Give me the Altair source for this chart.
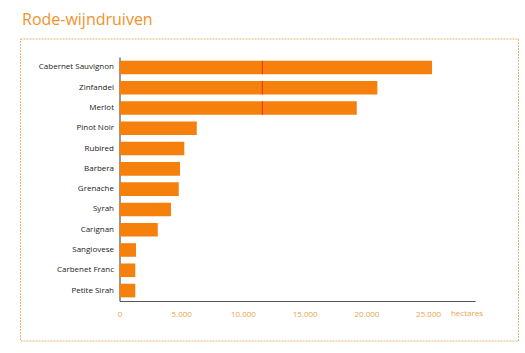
import altair as alt
import pandas as pd

grapes = ["Cabernet Sauvignon", "Zinfandel", "Merlot", "Pinot Noir", "Rubired",
          "Barbera", "Grenache", "Syrah", "Carignan", "Sangiovese",
          "Carbenet Franc", "Petite Sirah"]
hectares = [25320, 20890, 19220, 6260, 5250, 4900, 4800, 4170, 3100, 1340, 1280, 1280]
marker_grapes = ["Cabernet Sauvignon", "Zinfandel", "Merlot"]
marker_value = 11570
tick_values = [0, 5000, 10000, 15000, 20000, 25000]
title_text = "Rode-wijndruiven"
unit_text = "hectares"

df = pd.DataFrame({"grape": grapes, "hectares": hectares})
mk = pd.DataFrame({"grape": marker_grapes, "hectares": [marker_value] * len(marker_grapes)})

ORANGE = "#f5800c"
xscale = alt.Scale(domain=[0, 28800], nice=False, zero=True)
yscale = alt.Scale(domain=grapes, paddingInner=0.33, paddingOuter=0.18)

bars = alt.Chart(df).mark_bar(color=ORANGE).encode(
    x=alt.X("hectares:Q", scale=xscale,
            axis=alt.Axis(title=None, values=tick_values, grid=False, ticks=False,
                          labelColor="#e9a449", labelFont="Open Sans", labelFontSize=8,
                          labelPadding=9, domainColor="#555555", domainWidth=1,
                          labelExpr="replace(format(datum.value, ','), ',', '.')",
                          labelFlush=False)),
    y=alt.Y("grape:N", scale=yscale, sort=grapes,
            axis=alt.Axis(title=None, ticks=False, labelColor="#222222",
                          labelFont="Open Sans", labelFontSize=8, labelPadding=6,
                          domainColor="#333333", domainWidth=1)),
)

marker = alt.Chart(mk).mark_tick(color="#e01010", thickness=1, size=13.5, orient="vertical").encode(
    x=alt.X("hectares:Q", scale=xscale),
    y=alt.Y("grape:N", scale=yscale, sort=grapes),
)

one = pd.DataFrame({"t": [title_text], "u": [unit_text]})
title = alt.Chart(one).mark_text(align="left", baseline="alphabetic", fontSize=16,
                                 font="Open Sans", color="#f0922a").encode(
    text="t:N", x=alt.value(-97.5), y=alt.value(-32))
unit = alt.Chart(one).mark_text(align="center", baseline="middle", fontSize=8,
                                font="Open Sans", color="#e9a449").encode(
    text="u:N", x=alt.value(347.5), y=alt.value(257))
box = alt.Chart(one).mark_rect(fill=None, stroke="#e8b070", strokeWidth=1,
                               strokeDash=[2, 1]).encode(
    x=alt.value(-99), x2=alt.value(399), y=alt.value(-18), y2=alt.value(284))

chart = alt.layer(box, bars, marker, title, unit).properties(
    width=355.5, height=244,
    autosize=alt.AutoSizeParams(type="none"),
    padding={"left": 119.5, "top": 57, "right": 50, "bottom": 52},
    background="white",
).configure_view(stroke=None)

chart.save("out.html", embed_options={"renderer": "svg", "actions": False})
